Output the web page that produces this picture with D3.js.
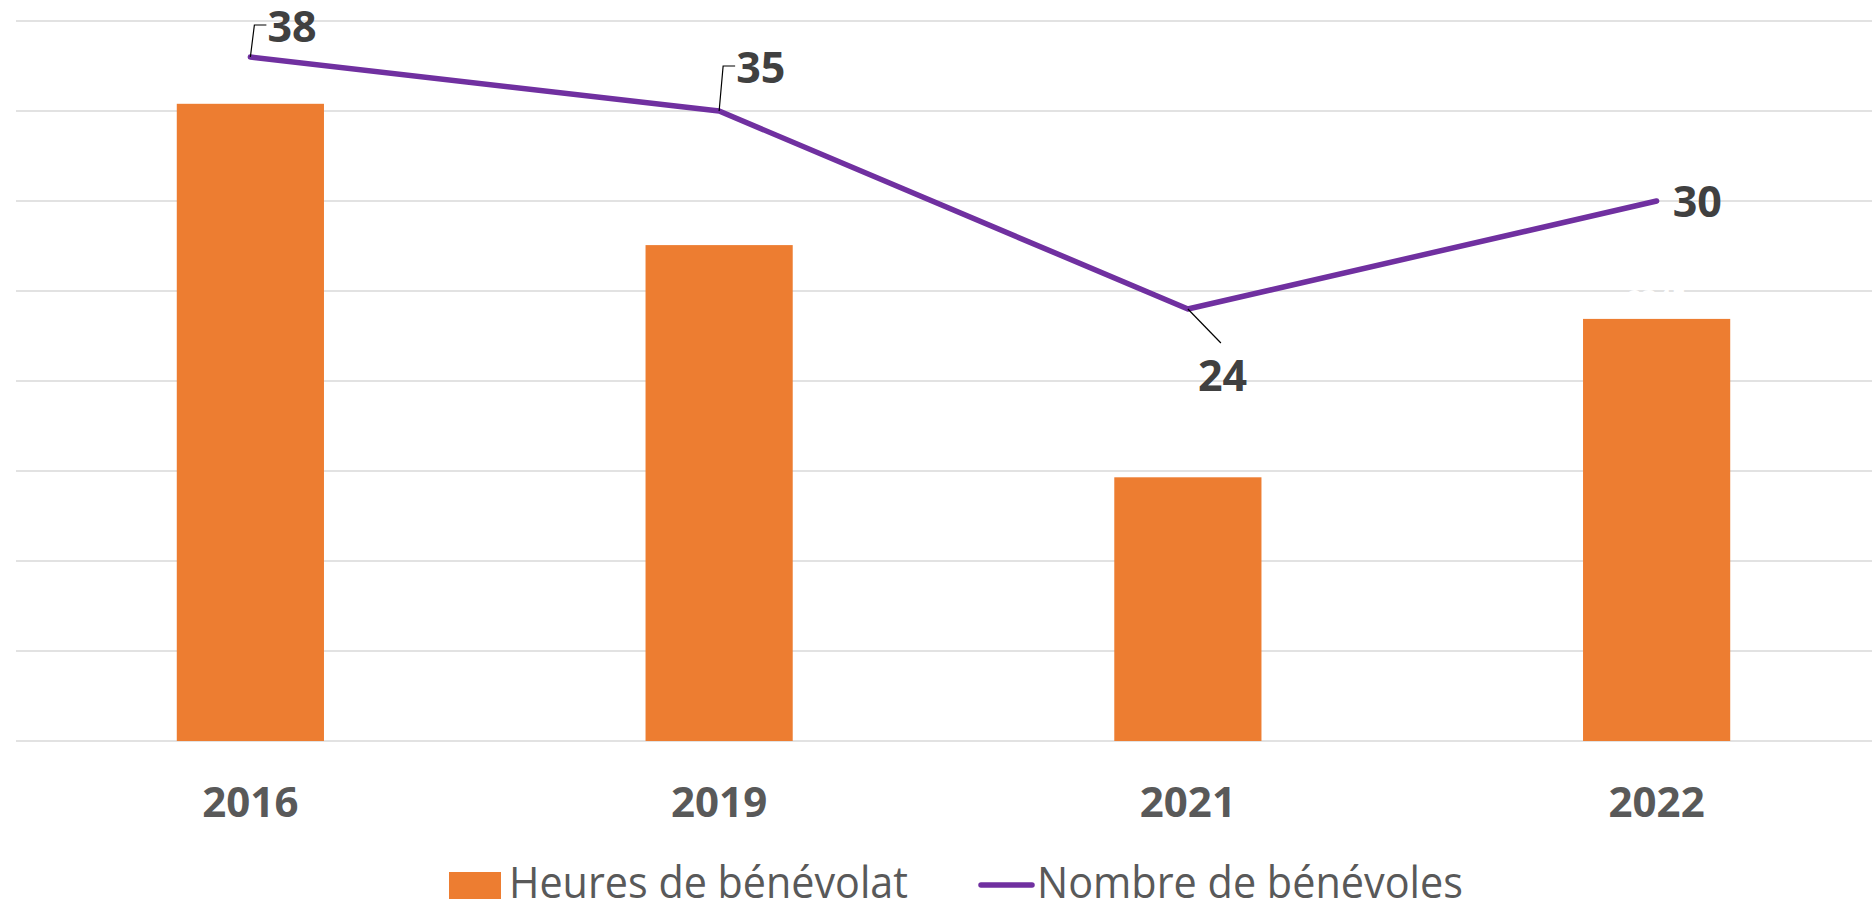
<!DOCTYPE html>
<html>
<head>
<meta charset="utf-8">
<script src="https://cdn.jsdelivr.net/npm/d3@7"></script>
<style>
  body { margin: 0; background: #fff; }
  text { font-family: "Open Sans", "Noto Sans", sans-serif; }
</style>
</head>
<body>
<div id="chart"></div>
<script>
// data
var years = ["2016", "2019", "2021", "2022"];
var heures = [3540, 2755, 1465, 2345];      // Heures de bénévolat (bars, hidden axis)
var benevoles = [38, 35, 24, 30];           // Nombre de bénévoles (line)
var gridTicks = [0, 5, 10, 15, 20, 25, 30, 35, 40];

(function () {
    var width = 1872, height = 905;
    var left = 16, top = 21, bottom = 741;

    var svg = d3.select("#chart").append("svg")
        .attr("width", width)
        .attr("height", height);

    var x = d3.scaleBand().domain(years).range([left, 1891]).padding(0);
    var barW = x.bandwidth() * 0.314;
    var yLine = d3.scaleLinear().domain([0, 40]).range([bottom, top]);
    var yBar = d3.scaleLinear().domain([0, 4000]).range([bottom, top]);

    // gridlines
    svg.append("g").selectAll("line")
        .data(gridTicks)
        .enter().append("line")
        .attr("x1", left).attr("x2", width)
        .attr("y1", function (d) { return yLine(d); })
        .attr("y2", function (d) { return yLine(d); })
        .attr("stroke", "#d9d9d9")
        .attr("stroke-width", 1.4);

    // bars
    svg.append("g").selectAll("rect")
        .data(heures)
        .enter().append("rect")
        .attr("x", function (d, i) { return x(years[i]) + x.bandwidth() / 2 - barW / 2; })
        .attr("y", function (d) { return yBar(d); })
        .attr("width", barW)
        .attr("height", function (d) { return bottom - yBar(d); })
        .attr("fill", "#ed7d31");

    // white bar labels (only visible over gridlines)
    svg.append("g").selectAll("text")
        .data(heures)
        .enter().append("text")
        .attr("x", function (d, i) { return x(years[i]) + x.bandwidth() / 2; })
        .attr("y", function (d) { return yBar(d) - 10; })
        .attr("text-anchor", "middle")
        .attr("font-size", 26)
        .attr("font-weight", "bold")
        .attr("fill", "#fff")
        .text(function (d) { return d; });

    // line
    var cx = function (i) { return x(years[i]) + x.bandwidth() / 2; };
    var line = d3.line()
        .x(function (d, i) { return cx(i); })
        .y(function (d) { return yLine(d); });

    svg.append("path")
        .datum(benevoles)
        .attr("d", line)
        .attr("fill", "none")
        .attr("stroke", "#7030a0")
        .attr("stroke-width", 5.5)
        .attr("stroke-linejoin", "round")
        .attr("stroke-linecap", "round");

    // label placement (dragged labels in the original), dx = label left, dy = baseline
    var labelPos = [
        { dx: 17, dy: -15, leader: "elbow" },
        { dx: 17, dy: -28, leader: "elbow" },
        { dx: 10, dy: 82, leader: "straight" },
        { dx: 16, dy: 16, leader: "none" }
    ];

    var lab = svg.append("g");
    benevoles.forEach(function (v, i) {
        var px = cx(i), py = yLine(v), p = labelPos[i];
        var lx = px + p.dx, ly = py + p.dy;
        if (p.leader === "elbow") {
            lab.append("path")
                .attr("d", "M" + px + "," + py + "L" + (px + 4) + "," + (ly - 17) + "L" + (lx - 1) + "," + (ly - 17))
                .attr("fill", "none")
                .attr("stroke", "#000")
                .attr("stroke-width", 1.2);
        } else if (p.leader === "straight") {
            lab.append("line")
                .attr("x1", px).attr("y1", py)
                .attr("x2", px + 33).attr("y2", py + 34)
                .attr("stroke", "#000")
                .attr("stroke-width", 1.2);
        }
        lab.append("text")
            .attr("x", lx)
            .attr("y", ly)
            .attr("font-size", 43)
            .attr("font-weight", "bold")
            .attr("fill", "#404040")
            .text(v);
    });

    // x axis labels
    svg.append("g").selectAll("text")
        .data(years)
        .enter().append("text")
        .attr("x", function (d) { return x(d) + x.bandwidth() / 2; })
        .attr("y", 817)
        .attr("text-anchor", "middle")
        .attr("font-size", 42)
        .attr("font-weight", "bold")
        .attr("fill", "#595959")
        .text(function (d) { return d; });

    // legend
    var leg = svg.append("g");
    leg.append("rect")
        .attr("x", 449).attr("y", 872)
        .attr("width", 52).attr("height", 27)
        .attr("fill", "#ed7d31");
    leg.append("text")
        .attr("x", 509).attr("y", 898)
        .attr("font-size", 43)
        .attr("textLength", 399)
        .attr("lengthAdjust", "spacingAndGlyphs")
        .attr("fill", "#595959")
        .text("Heures de bénévolat");
    leg.append("line")
        .attr("x1", 981).attr("x2", 1032)
        .attr("y1", 885).attr("y2", 885)
        .attr("stroke", "#7030a0")
        .attr("stroke-width", 5.5)
        .attr("stroke-linecap", "round");
    leg.append("text")
        .attr("x", 1037).attr("y", 898)
        .attr("font-size", 43)
        .attr("textLength", 426)
        .attr("lengthAdjust", "spacingAndGlyphs")
        .attr("fill", "#595959")
        .text("Nombre de bénévoles");
}());
</script>
</body>
</html>
